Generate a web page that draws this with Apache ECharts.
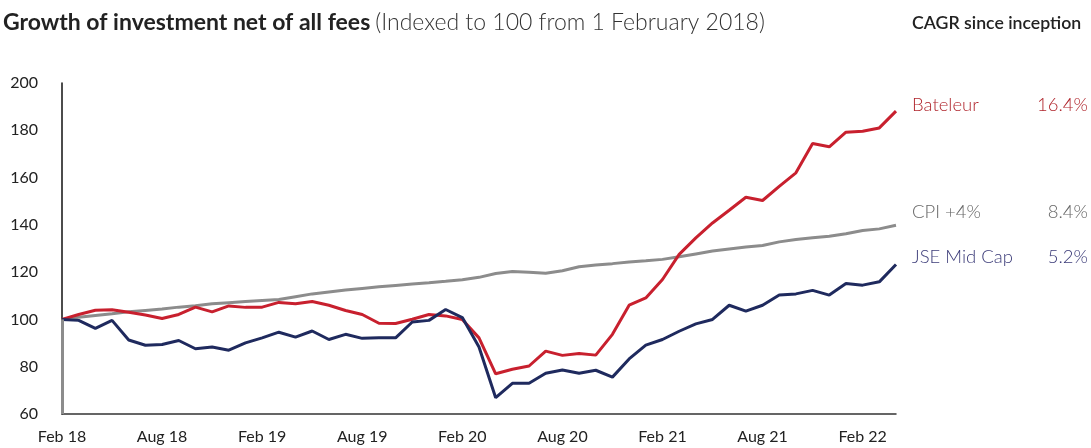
<!DOCTYPE html>
<html>
<head>
<meta charset="utf-8">
<script src="https://cdn.jsdelivr.net/npm/echarts@6/dist/echarts.min.js"></script>
<style>
html,body{margin:0;padding:0;background:#fff;}
#chart{width:1091px;height:448px;}
</style>
</head>
<body>
<div id="chart"></div>
<script>
const categories = [
 "Feb 18","Mar 18","Apr 18","May 18","Jun 18","Jul 18","Aug 18","Sep 18","Oct 18","Nov 18","Dec 18","Jan 19",
 "Feb 19","Mar 19","Apr 19","May 19","Jun 19","Jul 19","Aug 19","Sep 19","Oct 19","Nov 19","Dec 19","Jan 20",
 "Feb 20","Mar 20","Apr 20","May 20","Jun 20","Jul 20","Aug 20","Sep 20","Oct 20","Nov 20","Dec 20","Jan 21",
 "Feb 21","Mar 21","Apr 21","May 21","Jun 21","Jul 21","Aug 21","Sep 21","Oct 21","Nov 21","Dec 21","Jan 22",
 "Feb 22","Mar 22","Apr 22"
];
const bateleur = [100,102.1,103.9,104.1,103.0,101.9,100.4,102.1,105.2,103.2,105.7,105.1,
 105.2,107.2,106.6,107.6,106.0,103.8,102.1,98.4,98.3,100.1,102.1,101.5,
 100.0,92.2,77.0,78.9,80.3,86.6,84.8,85.6,84.9,93.7,106.0,109.1,
 116.9,127.5,134.5,140.8,146.2,151.7,150.3,156.3,162.0,174.4,173.0,179.2,
 179.6,181.0,188.1];
const cpiPlus4 = [100,100.9,101.7,102.4,103.2,103.8,104.4,105.2,105.8,106.6,107.1,107.6,
 108.0,108.4,109.6,110.8,111.6,112.4,113.1,113.8,114.4,115.0,115.5,116.1,
 116.8,117.8,119.4,120.3,120.0,119.5,120.6,122.3,123.0,123.6,124.3,124.8,
 125.4,126.5,127.7,128.9,129.8,130.6,131.3,132.8,133.8,134.5,135.2,136.2,
 137.6,138.3,139.8];
const jseMidCap = [100,99.6,96.2,99.6,91.3,89.1,89.4,91.1,87.6,88.3,87.0,90.1,
 92.2,94.6,92.5,95.1,91.5,93.7,92.0,92.2,92.2,98.9,99.6,104.2,
 100.8,88.3,66.9,73.0,73.0,77.2,78.6,77.2,78.5,75.6,83.3,89.1,
 91.5,95.0,98.1,100.0,106.0,103.5,106.0,110.3,110.8,112.3,110.3,115.2,
 114.5,115.9,123.2];
const yTicks = {min:60, max:200, step:20};
const cpiStartDrop = [60, 100];
const legendNames = ["Bateleur","CPI +4%","JSE Mid Cap"];
const cagr = ["16.4%","8.4%","5.2%"];

const RED = "#c8202e", GREY = "#8c8c8c", NAVY = "#1f2a5e";
const chart = echarts.init(document.getElementById('chart'), null, {renderer:'canvas'});
const FONT = "Lato";
chart.setOption({
  animation:false,
  backgroundColor:'#fff',
  title:{
    left:-2, top:6,
    text:'{b|Growth of investment net of all fees} {l|(Indexed to 100 from 1 February 2018)}',
    textStyle:{
      rich:{
        b:{fontFamily:FONT,fontWeight:700,fontSize:23,color:'#222'},
        l:{fontFamily:FONT,fontWeight:300,fontSize:23,color:'#333'}
      }
    }
  },
  grid:{left:62,right:195,top:83,bottom:34,containLabel:false},
  xAxis:{
    type:'category', data:categories, boundaryGap:false,
    axisLine:{show:true,lineStyle:{color:'#333',width:1.5}},
    axisTick:{show:false},
    axisLabel:{interval:5,margin:15,fontFamily:FONT,fontSize:16,color:'#222'},
    splitLine:{show:false}
  },
  yAxis:{
    type:'value', min:yTicks.min, max:yTicks.max, interval:yTicks.step,
    axisLine:{show:true,lineStyle:{color:'#111',width:1.5}},
    axisTick:{show:false},
    splitLine:{show:false},
    axisLabel:{margin:24,fontFamily:FONT,fontSize:16,color:'#222'}
  },
  series:[
    {name:legendNames[1],type:'line',data:cpiPlus4,symbol:'none',
     lineStyle:{color:GREY,width:3},itemStyle:{color:GREY},z:2,
     markLine:{silent:true,symbol:['none','none'],label:{show:false},
       lineStyle:{color:GREY,width:3,type:'solid'},
       data:[[{coord:[categories[0],cpiStartDrop[0]]},{coord:[categories[0],cpiStartDrop[1]]}]]}},
    {name:legendNames[0],type:'line',data:bateleur,symbol:'none',
     lineStyle:{color:RED,width:3},itemStyle:{color:RED},z:3},
    {name:legendNames[2],type:'line',data:jseMidCap,symbol:'none',
     lineStyle:{color:NAVY,width:3},itemStyle:{color:NAVY},z:4}
  ],
  graphic:[
    {type:'text',left:912,top:14,style:{text:'CAGR since inception',fontFamily:FONT,fontWeight:600,fontSize:17.7,fill:'#222'}},
    {type:'text',left:912,top:96,style:{text:legendNames[0],fontFamily:FONT,fontWeight:300,fontSize:18.5,fill:'#b0262d'}},
    {type:'text',right:3,top:96,style:{text:cagr[0],fontFamily:FONT,fontWeight:300,fontSize:18.5,fill:'#b0262d',align:'right'}},
    {type:'text',left:912,top:203,style:{text:legendNames[1],fontFamily:FONT,fontWeight:300,fontSize:18.5,fill:'#666'}},
    {type:'text',right:3,top:203,style:{text:cagr[1],fontFamily:FONT,fontWeight:300,fontSize:18.5,fill:'#666',align:'right'}},
    {type:'text',left:912,top:248,style:{text:legendNames[2],fontFamily:FONT,fontWeight:300,fontSize:18.5,fill:'#3b3b78'}},
    {type:'text',right:3,top:248,style:{text:cagr[2],fontFamily:FONT,fontWeight:300,fontSize:18.5,fill:'#3b3b78',align:'right'}}
  ]
});
</script>
</body>
</html>
